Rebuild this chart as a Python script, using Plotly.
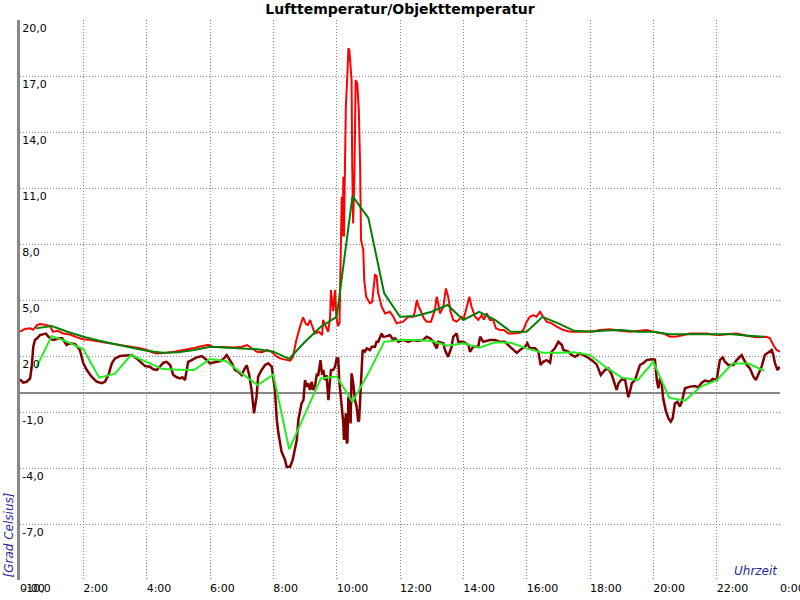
import plotly.graph_objects as go

# ---- data (hours of day, degrees Celsius) ----
luft_t = [0.00,0.16,0.32,0.41,0.54,0.63,0.79,0.95,1.04,1.20,1.36,1.58,1.80,1.99,2.21,2.53,2.84,3.16,3.57,3.79,
          4.01,4.17,4.33,4.48,4.64,4.83,5.05,5.27,5.46,5.62,5.78,5.94,6.09,6.32,6.54,6.79,7.01,7.17,7.33,7.48,
          7.64,7.80,7.93,8.08,8.21,8.37,8.53,8.62,8.72,8.84,8.94,9.03,9.09,9.16,9.31,9.44,9.54,9.57,9.66,9.73,
          9.79,9.82,9.89,9.95,9.99,10.04,10.09,10.14,10.16,10.19,10.21,10.23,10.26,10.29,10.34,10.37,10.40,10.44,10.47,10.49,
          10.52,10.56,10.60,10.65,10.70,10.74,10.77,10.84,10.87,10.93,10.99,11.05,11.12,11.21,11.26,11.31,11.37,11.42,11.53,11.68,
          11.79,11.89,12.00,12.10,12.26,12.42,12.47,12.53,12.58,12.68,12.76,12.84,12.98,13.10,13.16,13.21,13.26,13.37,13.45,13.52,
          13.60,13.68,13.79,13.95,14.00,14.11,14.19,14.26,14.37,14.47,14.58,14.65,14.74,14.84,14.94,15.03,15.16,15.28,15.42,15.58,
          15.79,15.89,16.00,16.10,16.21,16.31,16.42,16.52,16.63,16.79,16.95,17.16,17.37,17.68,18.10,18.31,18.63,18.95,19.26,19.58,
          19.79,20.00,20.31,20.53,20.74,20.95,21.16,21.41,21.68,21.88,22.10,22.36,22.63,22.95,23.26,23.58,23.68,23.79,23.89,24.00]
luft_v = [3.30,3.45,3.48,3.40,3.65,3.71,3.68,3.60,3.30,3.35,3.20,3.15,3.00,2.90,2.85,2.76,2.70,2.62,2.50,2.42,
          2.32,2.20,2.14,2.14,2.17,2.22,2.28,2.35,2.41,2.48,2.53,2.60,2.50,2.48,2.50,2.45,2.50,2.59,2.40,2.23,
          2.20,2.32,2.25,2.00,1.87,1.80,1.75,1.96,2.80,3.57,4.07,3.70,3.66,3.93,3.21,3.30,3.12,3.93,3.60,3.30,
          4.00,5.53,4.40,5.53,4.10,3.60,3.75,8.00,10.53,8.40,11.60,8.40,11.40,15.35,17.14,18.48,18.40,17.50,16.78,12.32,
          9.10,11.60,16.78,16.60,15.17,12.14,8.21,7.68,6.07,5.18,5.00,4.82,4.90,6.34,6.30,5.36,5.00,4.64,4.28,4.37,
          4.10,3.75,3.80,3.84,4.10,4.10,4.37,5.00,4.70,4.28,4.00,3.84,3.84,4.46,5.18,4.80,4.28,4.64,5.62,5.18,
          4.37,3.93,3.84,4.10,3.93,4.64,5.18,4.64,4.10,3.93,4.19,3.95,4.28,3.93,3.93,3.48,3.39,3.39,3.21,3.21,
          3.25,3.39,3.84,4.10,4.19,4.10,4.37,4.10,3.84,3.75,3.57,3.39,3.30,3.30,3.32,3.39,3.43,3.35,3.30,3.35,
          3.39,3.30,3.21,3.03,3.05,3.12,3.21,3.20,3.21,3.15,3.12,3.18,3.21,3.09,3.00,3.03,2.95,2.59,2.32,2.23]

objekt_t = [0.00,0.10,0.21,0.32,0.37,0.42,0.47,0.54,0.63,0.73,0.82,0.90,1.00,1.07,1.21,1.33,1.47,1.58,1.74,1.89,
            2.00,2.11,2.26,2.42,2.58,2.68,2.79,2.90,3.00,3.16,3.37,3.53,3.68,3.79,3.95,4.10,4.21,4.32,4.42,4.53,
            4.63,4.74,4.84,4.95,5.05,5.13,5.21,5.31,5.42,5.58,5.74,5.84,6.00,6.16,6.32,6.44,6.53,6.69,6.79,6.89,
            7.00,7.10,7.16,7.24,7.32,7.39,7.47,7.52,7.63,7.74,7.84,7.95,8.05,8.11,8.16,8.26,8.37,8.42,8.53,8.61,
            8.68,8.74,8.79,8.89,8.95,9.00,9.05,9.10,9.16,9.21,9.26,9.32,9.37,9.42,9.49,9.54,9.58,9.63,9.68,9.74,
            9.79,9.82,9.89,9.95,10.00,10.05,10.08,10.16,10.21,10.23,10.26,10.29,10.32,10.34,10.37,10.40,10.44,10.47,10.51,10.58,
            10.63,10.68,10.71,10.76,10.82,10.89,10.95,11.05,11.11,11.21,11.26,11.31,11.42,11.47,11.57,11.68,11.79,11.84,11.95,12.10,
            12.26,12.42,12.57,12.73,12.84,12.95,13.05,13.16,13.21,13.37,13.42,13.52,13.63,13.68,13.79,13.84,14.00,14.16,14.21,14.31,
            14.47,14.53,14.63,14.84,15.00,15.16,15.31,15.47,15.58,15.69,15.79,15.95,16.02,16.10,16.26,16.37,16.44,16.52,16.63,16.74,
            16.79,16.89,17.00,17.11,17.16,17.32,17.42,17.53,17.68,17.90,18.05,18.21,18.34,18.47,18.58,18.69,18.79,18.84,18.90,19.00,
            19.11,19.21,19.26,19.32,19.42,19.52,19.58,19.68,19.79,19.95,20.05,20.11,20.16,20.21,20.26,20.31,20.40,20.48,20.55,20.61,
            20.68,20.76,20.84,20.90,21.00,21.16,21.31,21.42,21.53,21.63,21.79,21.87,22.00,22.05,22.10,22.19,22.26,22.37,22.53,22.63,
            22.79,22.84,22.95,23.05,23.16,23.24,23.31,23.42,23.52,23.63,23.74,23.79,23.84,23.92,24.00]
objekt_v = [0.75,0.57,0.62,0.80,1.43,2.50,2.86,2.95,3.12,3.18,3.20,3.03,2.89,2.86,2.95,2.95,2.59,2.68,2.64,2.32,
            1.61,1.25,0.89,0.62,0.54,0.62,0.98,1.61,1.87,2.00,2.05,2.05,1.87,1.69,1.46,1.43,1.29,1.25,1.43,1.64,
            1.69,1.52,0.98,0.86,0.80,0.86,0.71,1.69,1.78,1.93,2.00,1.87,1.61,1.69,1.73,1.87,2.05,1.61,1.25,1.16,
            0.98,1.34,1.50,0.98,0.09,-1.07,-0.18,0.89,1.25,1.52,1.61,1.43,0.18,-1.43,-2.14,-3.13,-3.57,-3.93,-3.93,-3.57,
            -2.95,-2.50,-1.43,-0.54,-0.36,0.71,0.36,0.54,0.18,0.62,0.18,0.45,1.00,0.98,1.78,1.00,1.25,0.71,0.98,-0.36,
            0.71,1.25,1.25,1.43,1.87,1.87,0.71,-0.54,-1.61,-2.50,-1.43,-1.07,-2.68,-2.60,-0.18,-0.50,-1.61,1.07,0.70,-0.36,
            -0.71,-1.52,-1.43,0.18,2.32,2.23,2.41,2.32,2.50,2.50,2.76,2.76,3.21,3.03,3.05,3.12,2.86,2.95,2.76,2.86,
            2.76,2.86,2.80,2.86,3.03,2.95,2.76,2.41,2.76,2.68,2.32,1.96,2.50,3.03,3.21,2.76,2.76,2.59,2.23,2.50,
            2.50,3.03,2.76,2.86,2.86,2.76,2.76,2.50,2.32,2.17,2.32,2.50,2.68,2.41,2.41,2.23,1.52,1.69,1.78,1.64,
            2.23,2.41,2.76,2.59,2.32,2.23,2.05,1.96,2.14,1.96,1.78,1.55,0.98,1.25,1.34,0.98,0.45,0.18,0.54,0.75,
            0.71,-0.21,0.09,0.54,0.71,1.25,1.52,1.61,1.78,1.82,1.80,0.71,0.27,0.80,0.60,-0.27,-0.98,-1.34,-1.52,-1.34,
            -0.54,-0.45,-0.71,-0.45,0.27,0.36,0.39,0.32,0.57,0.68,0.62,0.77,0.71,1.25,1.78,1.93,1.69,1.52,1.52,1.78,
            2.05,1.87,1.52,1.34,0.89,0.71,0.98,1.43,2.05,2.17,2.32,2.05,1.61,1.25,1.43]

# half-hourly means
mittel_t = [0.5,1.0,1.5,2.0,2.5,3.0,3.5,4.0,4.5,5.0,5.5,6.0,6.5,7.0,7.5,8.0,8.5,9.0,9.5,10.0,10.5,11.0,11.5,12.0,
            12.5,13.0,13.5,14.0,14.5,15.0,15.5,16.0,16.5,17.0,17.5,18.0,18.5,19.0,19.5,20.0,20.5,21.0,21.5,22.0,22.5,23.0,23.5]
luft_mittel = [3.48,3.60,3.30,3.03,2.82,2.62,2.46,2.28,2.17,2.20,2.32,2.50,2.46,2.41,2.36,2.23,1.85,2.76,3.57,4.10,10.56,9.40,5.36,4.10,
               4.14,4.37,4.73,3.93,4.37,3.93,3.30,3.30,4.10,3.75,3.35,3.30,3.37,3.39,3.30,3.30,3.16,3.16,3.16,3.16,3.16,3.09,3.03]
objekt_mittel = [1.34,3.07,2.76,2.36,0.84,1.05,2.05,1.69,1.30,1.27,1.25,1.84,1.73,1.07,0.44,1.00,-3.00,-1.10,0.80,0.90,-0.45,1.07,2.76,2.86,
                 2.86,2.80,2.55,2.68,2.44,2.73,2.71,2.41,2.17,2.17,2.20,2.05,1.40,0.84,0.71,1.69,-0.23,-0.39,0.36,0.71,1.60,1.60,1.21]

x_ticks = [0, 2, 4, 6, 8, 10, 12, 14, 16, 18, 20, 22, 24]
x_labels = ["0:00", "2:00", "4:00", "6:00", "8:00", "10:00", "12:00", "14:00", "16:00", "18:00", "20:00", "22:00", "0:00"]
y_ticks = [-10, -7, -4, -1, 2, 5, 8, 11, 14, 17, 20]
y_labels = ["-10,0", "-7,0", "-4,0", "-1,0", "2,0", "5,0", "8,0", "11,0", "14,0", "17,0", "20,0"]

fig = go.Figure()
fig.add_trace(go.Scatter(x=luft_t, y=luft_v, mode="lines", line=dict(color="#ff0000", width=2), name="Lufttemperatur"))
fig.add_trace(go.Scatter(x=objekt_t, y=objekt_v, mode="lines", line=dict(color="#800000", width=2.5), name="Objekttemperatur"))
fig.add_trace(go.Scatter(x=mittel_t, y=luft_mittel, mode="lines", line=dict(color="#008000", width=2), name="Luft Mittel"))
fig.add_trace(go.Scatter(x=mittel_t, y=objekt_mittel, mode="lines", line=dict(color="#22ee22", width=2), name="Objekt Mittel"))

fig.update_layout(
    width=800, height=600,
    margin=dict(l=20, r=20, t=20, b=20),
    paper_bgcolor="white", plot_bgcolor="white",
    showlegend=False,
    font=dict(family="DejaVu Sans", size=11, color="black"),
    title=dict(text="<b>Lufttemperatur/Objekttemperatur</b>", x=0.5, xanchor="center",
               y=0.985, yanchor="middle", yref="container", font=dict(size=14, color="black")),
    xaxis=dict(range=[0, 24], tickvals=x_ticks, ticktext=x_labels, showgrid=True, automargin=False,
               gridcolor="#888888", griddash="1px,2px", gridwidth=1, zeroline=False, showline=False,
               ticks="", ticklabelposition="outside right", ticklabeloverflow="allow",
               tickfont=dict(color="black", size=11)),
    yaxis=dict(range=[-10, 20], tickvals=y_ticks, ticktext=y_labels, showgrid=True, automargin=False,
               gridcolor="#888888", griddash="1px,2px", gridwidth=1,
               zeroline=True, zerolinecolor="#888888", zerolinewidth=2,
               showline=True, linecolor="#888888", linewidth=3,
               ticks="", ticklabelposition="inside bottom", ticklabeloverflow="allow",
               tickfont=dict(color="black", size=11)),
    annotations=[
        dict(text="<i>Uhrzeit</i>", xref="paper", yref="paper", x=1, y=0, xanchor="right", yanchor="bottom",
             showarrow=False, font=dict(size=12, color="#2a2aa0")),
        dict(text="<i>[Grad Celsius]</i>", xref="paper", yref="paper", x=0, y=0, xshift=-12,
             xanchor="center", yanchor="bottom", textangle=-90,
             showarrow=False, font=dict(size=12, color="#2a2aa0")),
    ],
)

fig.write_html("out.html", config={"displayModeBar": False},
               post_script="document.body.style.margin='0px';")
